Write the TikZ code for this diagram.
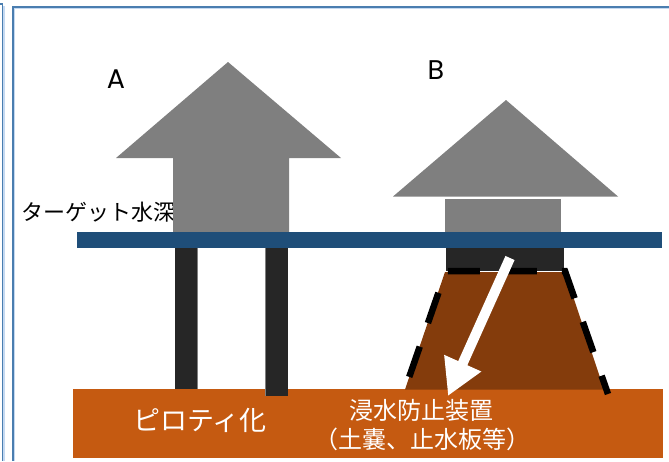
\documentclass[tikz,border=0pt]{standalone}
\usepackage{fontspec}
\usetikzlibrary{arrows.meta}
\newfontfamily\jpfont{Noto Sans CJK JP}
\newfontfamily\latfont{Poppins}
\definecolor{frameblue}{RGB}{74,126,176}
\definecolor{framelight}{RGB}{197,217,241}
\definecolor{housegray}{RGB}{127,127,127}
\definecolor{pillar}{RGB}{38,38,38}
\definecolor{waterblue}{RGB}{31,78,121}
\definecolor{earth}{RGB}{132,60,12}
\definecolor{ground}{RGB}{197,90,17}
\tikzset{
  frameline/.style={draw=frameblue,line width=1.3pt},
  framelite/.style={draw=framelight,line width=1.2pt},
  house/.style={fill=housegray,draw=none},
  post/.style={fill=pillar,draw=none},
  lbl/.style={inner sep=0pt,font=\latfont\fontsize{27}{29}\selectfont},
  jptext/.style={inner sep=0pt,font=\jpfont\fontsize{22}{24}\selectfont},
  wtext/.style={inner sep=0pt,text=white,font=\jpfont\fontsize{24}{26}\selectfont},
}
\begin{document}
\begin{tikzpicture}[x=1pt,y=-1pt]
\useasboundingbox (0,0) rectangle (669,461);
% frames
\draw[framelite] (4,461) -- (4,5.5);
\draw[frameline] (0,4) -- (2.5,4) -- (2.5,461);
\draw[framelite] (14.5,461) -- (14.5,8.5) -- (669,8.5);
\draw[frameline] (13,461) -- (13,7) -- (669,7);
% label for target depth
\node[jptext,anchor=west] (tgt) at (21,212) {ターゲット水深};
% house A
\path[house] (228,62) -- (341,158) -- (289,158) -- (289,233) -- (173,233) -- (173,158) -- (116,158) -- cycle;
% house B
\path[house] (506,100) -- (618,196.5) -- (393,196.5) -- cycle;
\path[house] (445,198.5) rectangle (561,233);
% water level bar
\fill[waterblue] (77,232) rectangle (662,247.5);
% pilotis
\fill[post] (175,247.5) rectangle (197,389);
\draw[housegray,line width=0.8pt] (197.4,247.5) -- (197.4,389);
% ground band
\fill[ground] (73,389) rectangle (663,458);
\fill[post] (266,247.5) rectangle (288,396);
\draw[housegray,line width=0.8pt] (265.6,247.5) -- (265.6,396);
% house B base and embankment
\fill[post] (446,247.5) rectangle (564,271);
\fill[earth] (445,272) -- (565,272) -- (604,389.5) -- (405,389.5) -- cycle;
\draw[line width=6.5pt,dash pattern=on 32pt off 25pt,dash phase=41pt]
  (404,392) -- (446,271) -- (565,271) -- (608,394);
% white arrow
\coordinate (arrS) at (510,258);
\coordinate (arrE) at (448,396);
\draw[white,line width=10pt,-{Triangle[width=38pt,length=36pt]}] (arrS) -- (arrE);
% labels
\node[lbl] (labA) at (116,79) {A};
\node[lbl] (labB) at (436,70) {B};
\node[wtext,font=\jpfont\fontsize{27}{29}\selectfont] (pil) at (200,420) {ピロティ化};
\node[wtext] (dev1) at (421,410) {浸水防止装置};
\node[wtext] (dev2) at (422,439) {（土嚢、止水板等）};
\end{tikzpicture}
\end{document}
